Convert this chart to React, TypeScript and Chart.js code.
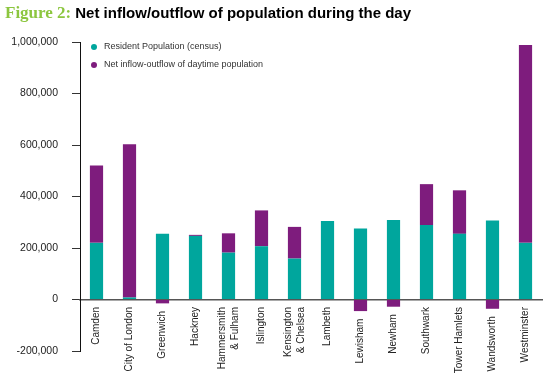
import React, { useEffect, useRef } from "react";
import { Chart, registerables } from "chart.js";

Chart.register(...registerables);

const boroughs: (string | string[])[] = [
  "Camden",
  "City of London",
  "Greenwich",
  "Hackney",
  ["Hammersmith", "& Fulham"],
  "Islington",
  ["Kensington", "& Chelsea"],
  "Lambeth",
  "Lewisham",
  "Newham",
  "Southwark",
  "Tower Hamlets",
  "Wandsworth",
  "Westminster",
];

const residentPopulation = [
  220000, 8000, 255000, 247000, 182000, 207000, 159000, 305000, 276000, 309000,
  289000, 255000, 307000, 220000,
];

const netInflowOutflow = [
  300000, 595000, -15000, 4000, 75000, 139000, 123000, 0, -45000, -28000,
  159000, 169000, -36000, 768000,
];

const seriesNames = [
  "Resident Population (census)",
  "Net inflow-outflow of daytime population",
];

const yMin = -200000;
const yMax = 1000000;
const yStep = 200000;

const TEAL = "#00a69d";
const PURPLE = "#7e1c7d";
const FONT = "'Liberation Sans', Arial, sans-serif";

const insideLegend = {
  id: "insideLegend",
  afterDraw(chart: any) {
    const { ctx, chartArea } = chart;
    ctx.save();
    chart.data.datasets.forEach((ds: any, i: number) => {
      const y = chartArea.top + 5 + i * 18;
      ctx.beginPath();
      ctx.arc(chartArea.left + 14, y, 3, 0, Math.PI * 2);
      ctx.fillStyle = ds.backgroundColor;
      ctx.fill();
      ctx.fillStyle = "#333";
      ctx.font = `9px ${FONT}`;
      ctx.textAlign = "left";
      ctx.textBaseline = "middle";
      ctx.fillText(ds.label, chartArea.left + 24, y);
    });
    ctx.restore();
  },
};

const categoryLabels = {
  id: "categoryLabels",
  afterDatasetsDraw(chart: any) {
    const { ctx } = chart;
    const xs = chart.scales.x;
    const ys = chart.scales.y;
    const zero = ys.getPixelForValue(0);
    ctx.save();
    ctx.font = `10px ${FONT}`;
    ctx.fillStyle = "#222";
    ctx.textAlign = "right";
    ctx.textBaseline = "middle";
    (chart.data.labels as any[]).forEach((lab: any, i: number) => {
      const x = xs.getPixelForValue(i);
      let bottom = zero;
      chart.data.datasets.forEach((_ds: any, d: number) => {
        const el: any = chart.getDatasetMeta(d).data[i];
        if (el) bottom = Math.max(bottom, el.y, el.base);
      });
      const lines = Array.isArray(lab) ? lab : [lab];
      ctx.save();
      ctx.translate(x, bottom + 7.5);
      ctx.rotate(-Math.PI / 2);
      lines.forEach((ln: string, k: number) => {
        const off = (k - (lines.length - 1) / 2) * 13;
        ctx.fillText(ln, 0, off);
      });
      ctx.restore();
    });
    ctx.restore();
  },
};

export default function App() {
  const canvasRef = useRef<HTMLCanvasElement | null>(null);

  useEffect(() => {
    const canvas = canvasRef.current;
    if (!canvas) return;
    const chart = new Chart(canvas, {
      type: "bar",
      data: {
        labels: boroughs,
        datasets: [
          {
            label: seriesNames[0],
            data: residentPopulation,
            backgroundColor: TEAL,
            borderWidth: 0,
          },
          {
            label: seriesNames[1],
            data: netInflowOutflow,
            backgroundColor: PURPLE,
            borderWidth: 0,
          },
        ],
      },
      plugins: [insideLegend, categoryLabels],
      options: {
        animation: false,
        responsive: false,
        maintainAspectRatio: false,
        layout: { padding: { left: 0, right: 13, top: 42, bottom: 32 } },
        datasets: {
          bar: { barPercentage: 0.4, categoryPercentage: 1 },
        },
        plugins: {
          tooltip: { enabled: false },
          legend: { display: false },
        },
        scales: {
          x: {
            type: "category",
            stacked: true,
            offset: true,
            position: { y: 0 } as any,
            grid: { display: false, drawTicks: false },
            border: { display: true, color: "#555", width: 1.5 },
            ticks: { display: false },
          },
          y: {
            type: "linear",
            stacked: true,
            min: yMin,
            max: yMax,
            afterFit: (scale: any) => {
              scale.width = 80;
            },
            ticks: {
              stepSize: yStep,
              padding: 14,
              color: "#222",
              font: { family: FONT, size: 10.5 },
              callback: (v: any) => Number(v).toLocaleString("en-US"),
            },
            grid: {
              drawOnChartArea: false,
              drawTicks: true,
              tickLength: 8,
              color: "#333",
            },
            border: { display: true, color: "#111", width: 1 },
          },
        },
      },
    });
    return () => chart.destroy();
  }, []);

  return (
    <div
      style={{
        position: "absolute",
        left: 0,
        top: 0,
        width: 555,
        height: 383,
        background: "#fff",
      }}
    >
      <canvas
        ref={canvasRef}
        width={555}
        height={383}
        style={{ position: "absolute", left: 0, top: 0, width: 555, height: 383 }}
      />
      <div
        style={{
          position: "absolute",
          left: 5,
          top: 3,
          whiteSpace: "nowrap",
          fontWeight: "bold",
          lineHeight: "20px",
        }}
      >
        <span
          style={{
            color: "#8cc63f",
            fontFamily: "'Liberation Serif', serif",
            fontSize: 17,
          }}
        >
          Figure 2:
        </span>{" "}
        <span
          style={{
            color: "#000",
            fontFamily: FONT,
            fontSize: 15,
          }}
        >
          Net inflow/outflow of population during the day
        </span>
      </div>
    </div>
  );
}
